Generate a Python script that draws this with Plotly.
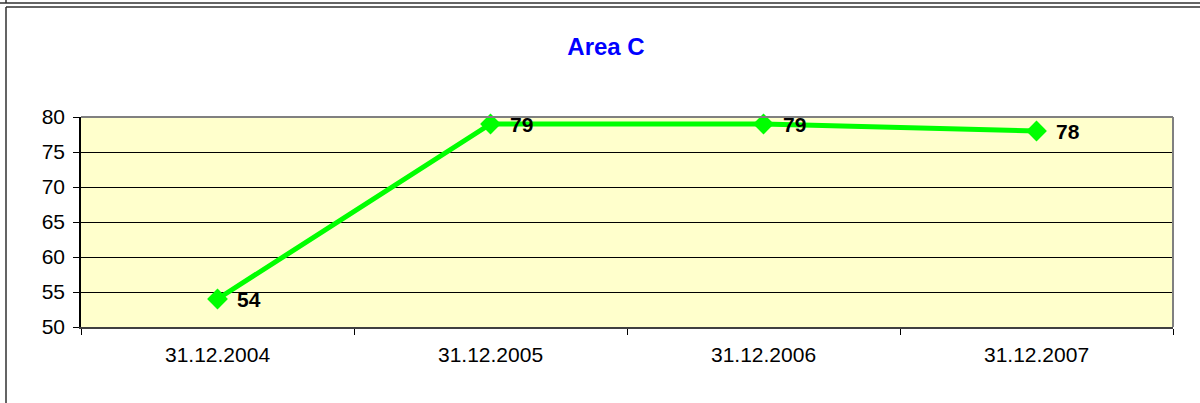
import plotly.graph_objects as go

# Chart data
dates = ["31.12.2004", "31.12.2005", "31.12.2006", "31.12.2007"]
values = [54, 79, 79, 78]
y_ticks = [50, 55, 60, 65, 70, 75, 80]

# Plot area geometry (pixels)
W, H = 1200, 403
L, R, T, B = 81, 27, 117, 76
pw, ph = W - L - R, H - T - B


def px_x(x):
    return (x - L) / pw


def px_y(y):
    return (H - B - y) / ph


FONT = "Liberation Sans, Arial"

fig = go.Figure()
fig.add_trace(go.Scatter(
    x=dates, y=values,
    mode="lines+markers",
    line=dict(color="#00FF00", width=5),
    marker=dict(symbol="diamond", size=16, color="#00FF00"),
    cliponaxis=False,
    showlegend=False,
))

# value labels to the right of each point
annotations = [
    dict(x=d, y=v, xref="x", yref="y", text=str(v), showarrow=False,
         xanchor="left", yanchor="middle", xshift=17, yshift=0,
         font=dict(family=FONT, size=21, color="black", weight="bold"))
    for d, v in zip(dates, values)
]

frame = dict(color="#303030", width=1.5)
shapes = [
    # outer double frame
    dict(type="line", xref="paper", yref="paper", x0=px_x(0), x1=px_x(1200), y0=px_y(3), y1=px_y(3), line=frame),
    dict(type="line", xref="paper", yref="paper", x0=px_x(6), x1=px_x(6), y0=px_y(0), y1=px_y(3), line=frame),
    dict(type="line", xref="paper", yref="paper", x0=px_x(6), x1=px_x(1200), y0=px_y(7), y1=px_y(7), line=frame),
    dict(type="line", xref="paper", yref="paper", x0=px_x(6), x1=px_x(6), y0=px_y(7), y1=px_y(403), line=frame),
    # plot area top and right edges
    dict(type="line", xref="paper", yref="paper", x0=0, x1=1, y0=1, y1=1, line=dict(color="#808080", width=2)),
    dict(type="line", xref="paper", yref="paper", x0=1, x1=1, y0=0, y1=1, line=dict(color="#808080", width=2)),
]

fig.update_layout(
    width=W, height=H,
    margin=dict(l=L, r=R, t=T, b=B, pad=0),
    paper_bgcolor="white",
    plot_bgcolor="#FFFFCC",
    font=dict(family=FONT, size=21, color="black"),
    title=dict(
        text="<b>Area C</b>",
        font=dict(family=FONT, size=24, color="#0000FF"),
        x=606 / W, xanchor="center",
        y=1 - 47 / H, yanchor="middle", yref="container",
    ),
    shapes=shapes,
    annotations=annotations,
    xaxis=dict(
        type="category",
        tickson="boundaries",
        ticks="outside", ticklen=6, tickcolor="black", tickwidth=1,
        showgrid=False,
        showline=True, linecolor="#404040", linewidth=2,
        range=[-0.5, 3.5],
        tickfont=dict(size=21),
        ticklabelstandoff=8,
    ),
    yaxis=dict(
        range=[50, 80],
        tickvals=y_ticks,
        ticks="outside", ticklen=6, tickcolor="black", tickwidth=1,
        showgrid=True, gridcolor="black", gridwidth=1,
        showline=True, linecolor="black", linewidth=1.5,
        zeroline=False,
        tickfont=dict(size=21),
        ticklabelstandoff=4,
    ),
)

fig.write_html("out.html")
